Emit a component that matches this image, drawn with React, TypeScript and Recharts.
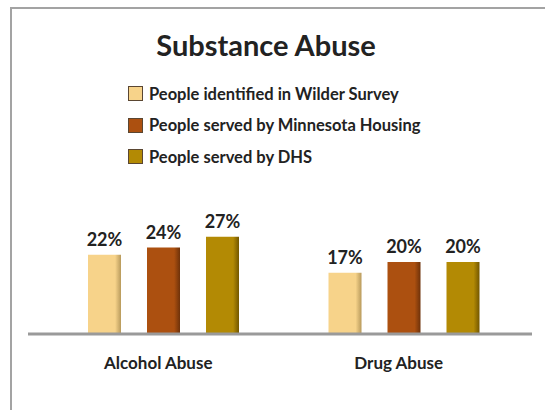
import { Bar, BarChart, LabelList, XAxis, YAxis } from "recharts";

const categories = ["Alcohol Abuse", "Drug Abuse"];
const wilder = [22, 17];
const minnesotaHousing = [24, 20];
const dhs = [27, 20];

const seriesNames = [
  "People identified in Wilder Survey",
  "People served by Minnesota Housing",
  "People served by DHS",
];
const seriesColors = ["#F7D38A", "#AC5010", "#B38A04"];
const seriesShades = ["#B89A5C", "#6E320A", "#735700"];

const data = categories.map((name, i) => ({
  name,
  wilder: wilder[i],
  housing: minnesotaHousing[i],
  dhs: dhs[i],
}));

const keys = ["wilder", "housing", "dhs"];
const font = "Lato, 'Open Sans', sans-serif";

function LegendBox() {
  return (
    <div
      style={{
        position: "absolute",
        left: 128,
        top: 78,
        fontFamily: font,
        fontWeight: 700,
        fontSize: 16.5,
        color: "#222",
      }}
    >
      {seriesNames.map((n, i) => (
        <div key={n} style={{ display: "flex", alignItems: "center", height: 31.5 }}>
          <span
            style={{
              display: "inline-block",
              width: 13,
              height: 13,
              background: seriesColors[i],
              border: "1px solid #5a4632",
              marginRight: 6,
            }}
          />
          {n}
        </div>
      ))}
    </div>
  );
}

export default function App() {
  return (
    <div
      style={{
        position: "absolute",
        left: 0,
        top: 0,
        width: 545,
        height: 410,
        overflow: "hidden",
        background: "#fff",
      }}
    >
      <div
        style={{
          position: "absolute",
          left: 10,
          top: 7,
          width: 600,
          height: 500,
          borderLeft: "2px solid #a3a3a3",
          borderTop: "2px solid #a3a3a3",
        }}
      />
      <BarChart
        width={545}
        height={410}
        data={data}
        margin={{ top: 226, right: 13, bottom: 46, left: 28 }}
        barSize={33}
        barGap={26}
        style={{ position: "absolute", left: 0, top: 0 }}
      >
        <defs>
          {keys.map((k, i) => (
            <linearGradient key={k} id={`g-${k}`} x1="0" y1="0" x2="1" y2="0">
              <stop offset="0" stopColor={seriesColors[i]} />
              <stop offset="0.82" stopColor={seriesColors[i]} />
              <stop offset="1" stopColor={seriesShades[i]} />
            </linearGradient>
          ))}
        </defs>
        <XAxis
          dataKey="name"
          padding={{ left: 15, right: 8 }}
          axisLine={{ stroke: "#9a9a9a", strokeWidth: 3 }}
          tickLine={false}
          tickSize={0}
          tickMargin={23}
          tick={{ fontFamily: font, fontWeight: 700, fontSize: 17, fill: "#222", dx: -5 }}
        />
        <YAxis hide domain={[0, 30]} />
        {keys.map((k, i) => (
          <Bar
            key={k}
            dataKey={k}
            name={seriesNames[i]}
            fill={`url(#g-${k})`}
            isAnimationActive={false}
          >
            <LabelList
              dataKey={k}
              position="top"
              offset={9}
              formatter={(v: number) => `${v}%`}
              style={{ fontFamily: font, fontWeight: 700, fontSize: 18, fill: "#222" }}
            />
          </Bar>
        ))}
      </BarChart>
      <div
        style={{
          position: "absolute",
          left: 0,
          width: 532,
          top: 27,
          textAlign: "center",
          fontFamily: font,
          fontWeight: 700,
          fontSize: 29,
          color: "#222",
        }}
      >
        Substance Abuse
      </div>
      <LegendBox />
    </div>
  );
}
